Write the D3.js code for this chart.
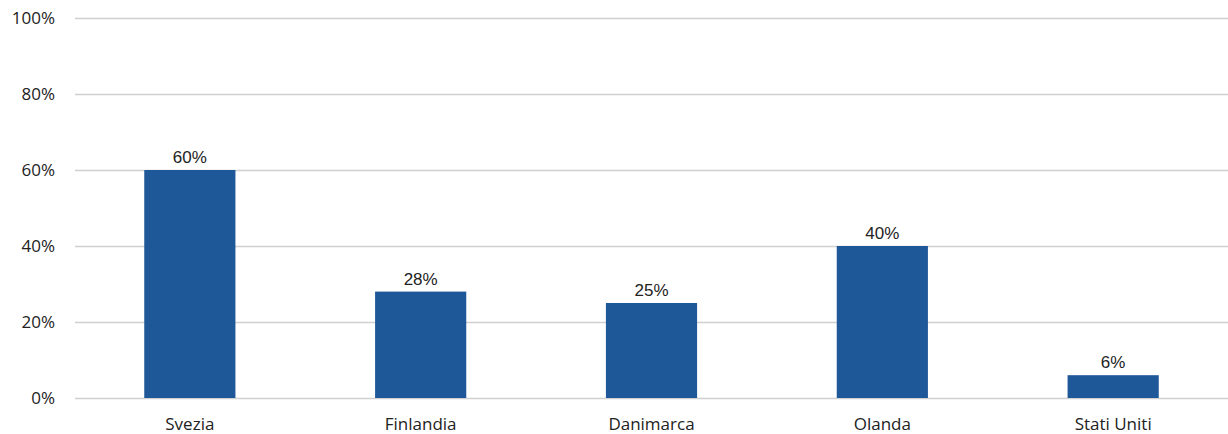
<!DOCTYPE html>
<html>
<head>
<meta charset="utf-8">
<script src="https://cdn.jsdelivr.net/npm/d3@7"></script>
<style>
	body { margin: 0; background: #fff; }
	text { font-family: 'Open Sans', 'Liberation Sans', sans-serif; fill: #222; }
	.grid line { stroke: #d0d0d0; stroke-width: 1.3; }
	.grid path { display: none; }
</style>
</head>
<body>
<div id="chart"></div>
<script>
var categories = ['Svezia', 'Finlandia', 'Danimarca', 'Olanda', 'Stati Uniti']
var values = [60, 28, 25, 40, 6]
var yTicks = [0, 20, 40, 60, 80, 100]

var width = 1228
var height = 434
var margin = { top: 18, bottom: 36, left: 75, right: 0 }
var chartWidth = width - margin.left - margin.right
var chartHeight = height - margin.top - margin.bottom

var svg = d3.select('#chart').append('svg')
	.attr('width', width)
	.attr('height', height)

var chartInner = svg.append('g')
	.attr('transform', 'translate(' + margin.left + ',' + margin.top + ')')

var yScale = d3.scaleLinear()
	.domain([0, 100])
	.range([chartHeight, 0])

var xScale = d3.scaleBand()
	.domain(categories)
	.range([0, chartWidth])
	.paddingInner(0.605)
	.paddingOuter(0.3)

// gridlines
chartInner.append('g')
	.attr('class', 'grid')
	.call(d3.axisLeft(yScale).tickValues(yTicks).tickSize(-chartWidth).tickFormat(''))

// y labels
chartInner.selectAll('.ylabel')
	.data(yTicks)
	.enter().append('text')
	.attr('class', 'ylabel')
	.attr('x', -20)
	.attr('y', function(d) { return yScale(d) })
	.attr('dy', '0.35em')
	.attr('text-anchor', 'end')
	.style('font-size', '17px')
	.text(function(d) { return d + '%' })

var data = categories.map(function(c, i) { return { cat: c, val: values[i] } })

chartInner.selectAll('rect')
	.data(data)
	.enter().append('rect')
	.attr('x', function(d) { return xScale(d.cat) })
	.attr('width', xScale.bandwidth())
	.attr('y', function(d) { return yScale(d.val) })
	.attr('height', function(d) { return chartHeight - yScale(d.val) })
	.attr('fill', '#1f5899')

chartInner.selectAll('.vlabel')
	.data(data)
	.enter().append('text')
	.attr('class', 'vlabel')
	.attr('x', function(d) { return xScale(d.cat) + xScale.bandwidth() / 2 })
	.attr('y', function(d) { return yScale(d.val) - 7 })
	.attr('text-anchor', 'middle')
	.style('font-family', "'Liberation Sans', Arial, sans-serif")
	.style('font-size', '17px')
	.text(function(d) { return d.val + '%' })

chartInner.selectAll('.xlabel')
	.data(categories)
	.enter().append('text')
	.attr('class', 'xlabel')
	.attr('x', function(d) { return xScale(d) + xScale.bandwidth() / 2 })
	.attr('y', chartHeight + 32)
	.attr('text-anchor', 'middle')
	.style('font-size', '17px')
	.text(function(d) { return d })
</script>
</body>
</html>
